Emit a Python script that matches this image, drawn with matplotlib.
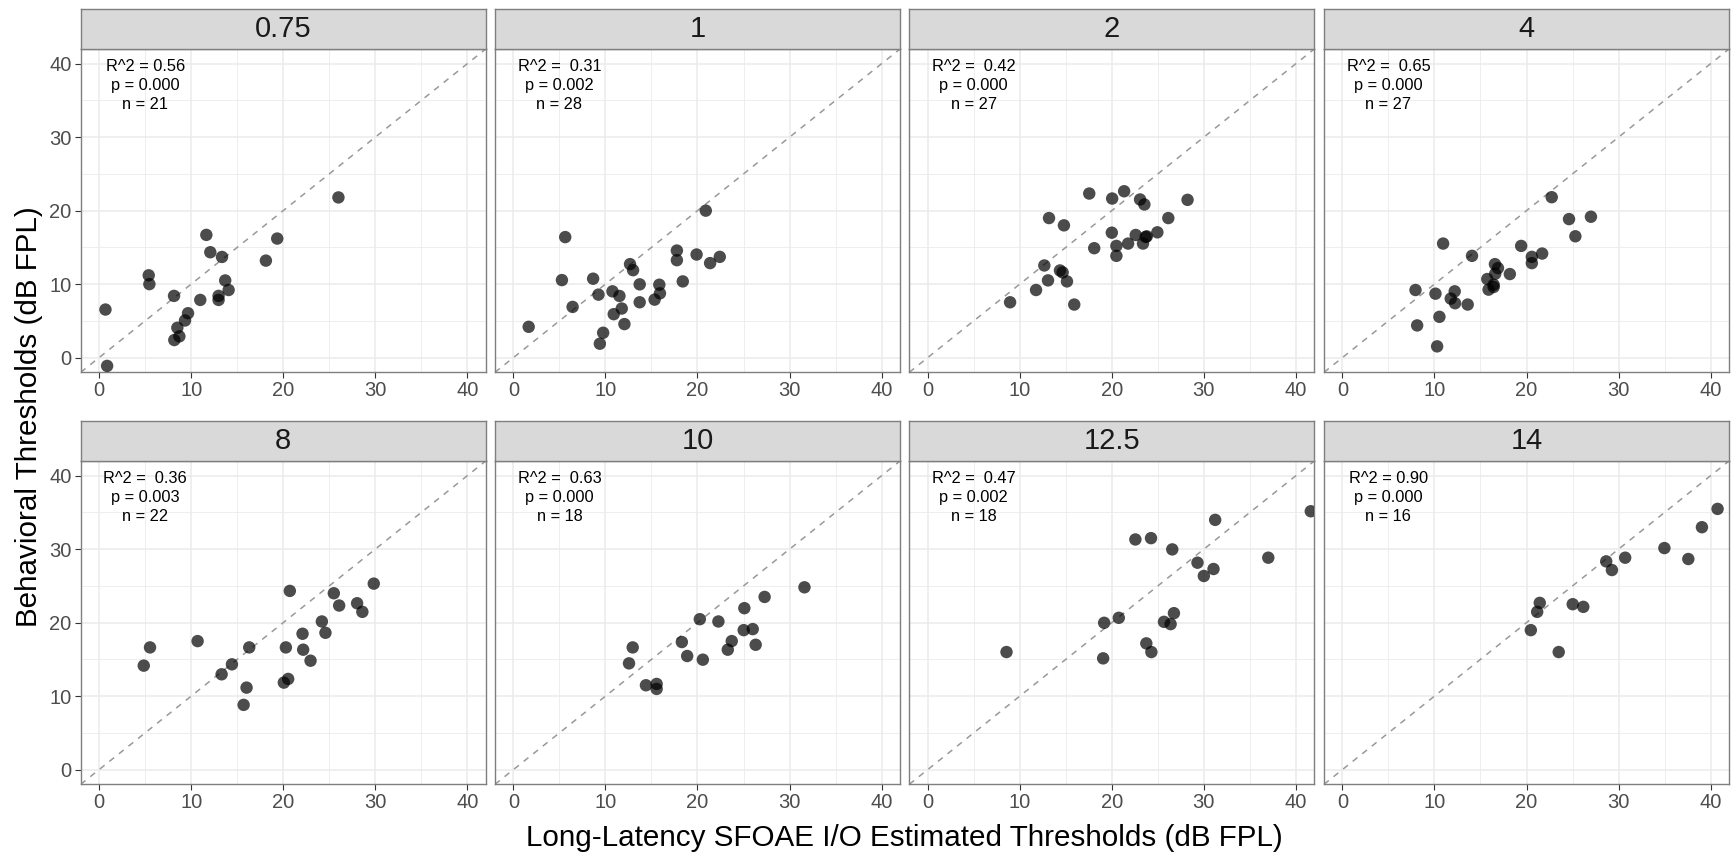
import matplotlib
matplotlib.use('Agg')
import matplotlib.pyplot as plt
import numpy as np

plt.rcParams['font.family'] = ['Liberation Sans', 'DejaVu Sans']

# ---------------- data ----------------
panel_titles = ['0.75', '1', '2', '4', '8', '10', '12.5', '14']

stat_labels = [
    'R^2 = 0.56\np = 0.000\nn = 21',
    'R^2 =  0.31\np = 0.002\nn = 28',
    'R^2 =  0.42\np = 0.000\nn = 27',
    'R^2 =  0.65\np = 0.000\nn = 27',
    'R^2 =  0.36\np = 0.003\nn = 22',
    'R^2 =  0.63\np = 0.000\nn = 18',
    'R^2 =  0.47\np = 0.002\nn = 18',
    'R^2 = 0.90\np = 0.000\nn = 16',
]

x_075 = [26.0, 11.65, 19.35, 12.08, 13.35, 18.12, 5.39, 5.46, 13.7, 14.07, 8.14,
         10.99, 12.98, 12.98, 0.69, 9.66, 9.33, 8.5, 8.72, 8.17, 0.87]
y_075 = [21.8, 16.7, 16.2, 14.34, 13.7, 13.2, 11.2, 10.0, 10.5, 9.2, 8.4,
         7.85, 8.4, 7.85, 6.54, 6.04, 5.05, 4.06, 2.89, 2.39, -1.13]

x_1 = [20.9, 5.63, 17.76, 19.9, 22.42, 17.76, 21.37, 12.67, 13.0, 5.27, 8.66,
       18.4, 13.72, 15.85, 9.24, 10.76, 11.52, 15.92, 15.34, 13.72, 6.43,
       11.77, 10.9, 1.66, 12.06, 9.75, 9.39]
y_1 = [20.0, 16.4, 14.57, 14.03, 13.71, 13.26, 12.86, 12.72, 11.9, 10.55, 10.74,
       10.37, 9.97, 9.92, 8.57, 9.02, 8.39, 8.75, 7.89, 7.53, 6.9,
       6.68, 5.91, 4.19, 4.56, 3.38, 1.89]

x_2 = [17.55, 20.04, 21.34, 23.07, 23.54, 28.23, 13.18, 14.8, 26.14, 20.0,
       22.6, 23.68, 23.8, 24.95, 23.39, 21.77, 20.5, 18.09, 20.5, 12.67,
       14.37, 14.66, 13.07, 15.13, 11.77, 8.95, 15.92]
y_2 = [22.33, 21.65, 22.64, 21.52, 20.84, 21.47, 18.99, 18.0, 18.99, 17.0,
       16.69, 16.42, 16.5, 17.05, 15.52, 15.52, 15.2, 14.89, 13.85, 12.54,
       11.86, 11.59, 10.51, 10.37, 9.2, 7.53, 7.22]

x_4 = [22.74, 24.62, 27.0, 25.31, 10.94, 19.42, 14.08, 20.58, 21.7, 20.58,
       16.57, 16.9, 16.6, 18.19, 15.74, 16.43, 16.43, 15.88, 7.94, 10.11,
       12.2, 11.77, 12.24, 13.61, 10.54, 8.12, 10.29]
y_4 = [21.83, 18.85, 19.17, 16.51, 15.52, 15.2, 13.85, 13.71, 14.16, 12.86,
       12.72, 12.18, 11.41, 11.37, 10.69, 9.92, 9.61, 9.25, 9.2, 8.7,
       9.02, 8.03, 7.4, 7.22, 5.55, 4.38, 1.53]

x_8 = [29.84, 20.72, 25.5, 26.08, 28.03, 28.6, 24.2, 24.59, 22.1, 10.7, 5.53,
       16.31, 20.29, 22.17, 22.97, 14.43, 4.85, 13.31, 20.54, 20.07, 16.02, 15.7]
y_8 = [25.31, 24.32, 24.0, 22.33, 22.64, 21.47, 20.16, 18.62, 18.49, 17.49, 16.63,
       16.63, 16.63, 16.32, 14.82, 14.33, 14.15, 12.97, 12.34, 11.84, 11.16, 8.81]

x_10 = [31.62, 27.29, 25.09, 20.25, 22.27, 25.02, 26.0, 23.72, 18.3, 26.32,
        23.29, 12.96, 18.88, 20.58, 12.56, 14.4, 15.56, 15.56]
y_10 = [24.81, 23.5, 21.97, 20.47, 20.16, 18.98, 19.12, 17.49, 17.36, 16.99,
        16.32, 16.63, 15.46, 14.96, 14.46, 11.48, 11.66, 10.98]

x_125 = [41.62, 31.23, 22.56, 24.26, 26.57, 37.0, 29.31, 31.05, 30.0, 26.75,
         20.76, 19.17, 25.67, 26.39, 23.75, 24.3, 8.56, 19.06]
y_125 = [35.16, 33.99, 31.32, 31.5, 29.97, 28.84, 28.16, 27.3, 26.35, 21.29,
         20.66, 19.98, 20.11, 19.8, 17.18, 16.0, 16.0, 15.14]

x_14 = [40.76, 39.06, 34.98, 37.58, 30.72, 28.66, 29.28, 21.44, 21.16, 25.02,
        26.17, 20.47, 23.5]
y_14 = [35.48, 32.99, 30.15, 28.66, 28.84, 28.34, 27.16, 22.69, 21.47, 22.51,
        22.15, 18.98, 16.0]

xs = [x_075, x_1, x_2, x_4, x_8, x_10, x_125, x_14]
ys = [y_075, y_1, y_2, y_4, y_8, y_10, y_125, y_14]

ticks = [0, 10, 20, 30, 40]
minor_ticks = [5, 15, 25, 35]
lims = (-2, 42)

# ---------------- layout ----------------
W, H = 1734, 858
fig = plt.figure(figsize=(W / 100, H / 100), dpi=100)
fig.patch.set_facecolor('white')

col_left = [80.7, 495.0, 909.3, 1324.0]
pw = 405.0
row_top = [49.0, 461.0]
ph = 323.3
strip_h = 40.5
border_col = '#7F7F7F'

for i in range(8):
    r, c = divmod(i, 4)
    left = col_left[c] / W
    bottom = (H - row_top[r] - ph) / H
    ax = fig.add_axes([left, bottom, pw / W, ph / H])
    ax.set_xlim(*lims)
    ax.set_ylim(*lims)
    ax.set_xticks(ticks)
    ax.set_yticks(ticks)
    ax.set_xticks(minor_ticks, minor=True)
    ax.set_yticks(minor_ticks, minor=True)
    ax.grid(which='major', color='#EBEBEB', linewidth=1.1, zorder=0)
    ax.grid(which='minor', color='#EBEBEB', linewidth=0.6, zorder=0)
    ax.set_axisbelow(True)
    ax.tick_params(which='minor', length=0)
    ax.tick_params(axis='x', which='major', length=4, width=0.8, color='#333333',
                   labelsize=14.5, labelcolor='#4D4D4D', pad=2.5)
    if c == 0:
        ax.tick_params(axis='y', which='major', length=4, width=0.8, color='#333333',
                       labelsize=14.5, labelcolor='#4D4D4D', pad=2.5)
    else:
        ax.tick_params(axis='y', which='major', length=0, labelleft=False)
    for sp in ax.spines.values():
        sp.set_color(border_col)
        sp.set_linewidth(1.0)

    ax.plot(lims, lims, linestyle=(0, (4, 4)), color='#999999', linewidth=1.1, zorder=1)
    ax.scatter(xs[i], ys[i], s=80, color='black', alpha=0.7, edgecolors='none', zorder=3)
    ax.text(5, 37, stat_labels[i], ha='center', va='center', fontsize=11.8,
            color='black', linespacing=1.32, zorder=4)

    # strip
    sax = fig.add_axes([left, (H - row_top[r]) / H, pw / W, strip_h / H])
    sax.set_facecolor('#D9D9D9')
    sax.set_xticks([])
    sax.set_yticks([])
    for sp in sax.spines.values():
        sp.set_color(border_col)
        sp.set_linewidth(1.0)
    sax.text(0.5, 0.5, panel_titles[i], ha='center', va='center', fontsize=21,
             color='#1A1A1A', transform=sax.transAxes)

fig.text(904.5 / W, 1 - 838 / H, 'Long-Latency SFOAE I/O Estimated Thresholds (dB FPL)',
         ha='center', va='center', fontsize=21.3, color='black')
fig.text(29 / W, 1 - 416.5 / H, 'Behavioral Thresholds (dB FPL)', rotation=90,
         ha='center', va='center', fontsize=21.3, color='black')

fig.savefig('out.png', dpi=100)
